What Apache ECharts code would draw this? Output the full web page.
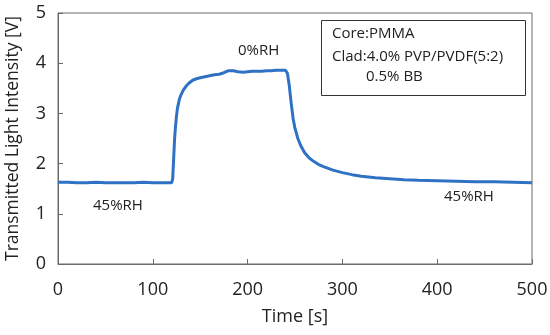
<!DOCTYPE html>
<html>
<head>
<meta charset="utf-8">
<script src="https://cdn.jsdelivr.net/npm/echarts@6/dist/echarts.min.js"></script>
<style>html,body{margin:0;padding:0;background:#fff;}#c{width:550px;height:335px;}</style>
</head>
<body>
<div id="c"></div>
<script>
var times = [0,10,20,30,40,50,60,70,80,90,100,110,120,121,122,123,124,125,126,128,130,132,135,138,142,146,150,155,160,165,170,175,180,185,190,195,200,205,210,215,220,225,230,235,240,242,244,246,248,250,253,256,260,265,270,275,280,290,300,310,320,335,350,365,380,400,420,440,460,480,500];
var intensity = [1.63,1.63,1.62,1.62,1.63,1.62,1.62,1.62,1.62,1.63,1.62,1.62,1.62,1.70,2.10,2.50,2.75,2.95,3.10,3.28,3.38,3.46,3.54,3.60,3.66,3.69,3.71,3.73,3.75,3.77,3.78,3.81,3.85,3.85,3.83,3.82,3.83,3.84,3.84,3.84,3.85,3.85,3.86,3.86,3.86,3.80,3.55,3.20,2.90,2.70,2.50,2.36,2.22,2.11,2.04,1.98,1.94,1.87,1.82,1.78,1.75,1.72,1.70,1.68,1.67,1.66,1.65,1.64,1.64,1.63,1.62];
var xTicks = [0,100,200,300,400,500];
var yTicks = [0,1,2,3,4,5];
var xTitle = 'Time [s]';
var yTitle = 'Transmitted Light Intensity [V]';
var legendLines = ['Core:PMMA','Clad:4.0% PVP/PVDF(5:2)','0.5% BB'];
var notes = ['0%RH','45%RH','45%RH'];

var data = times.map(function(t,i){return [t,intensity[i]];});
var FONT = '"Open Sans", sans-serif';
var chart = echarts.init(document.getElementById('c'), null, {renderer:'canvas'});
chart.setOption({
  animation:false,
  backgroundColor:'#fff',
  grid:{left:58,right:18,top:13,bottom:71,show:true,borderColor:'#6b6b6b',borderWidth:1,backgroundColor:'transparent',outerBoundsMode:'none',containLabel:false},
  xAxis:{type:'value',min:0,max:500,interval:100,
    name:xTitle,nameLocation:'middle',nameGap:44,
    nameTextStyle:{fontFamily:FONT,fontSize:18,color:'#222'},
    axisLine:{show:true,lineStyle:{color:'#6b6b6b',width:1}},
    axisTick:{show:true,inside:true,length:5,lineStyle:{color:'#6b6b6b'}},
    axisLabel:{fontFamily:FONT,fontSize:18,color:'#222',margin:17},
    splitLine:{show:false}},
  yAxis:{type:'value',min:0,max:5,interval:1,
    name:yTitle,nameLocation:'middle',nameGap:36,
    nameTextStyle:{fontFamily:FONT,fontSize:17.5,color:'#222'},
    axisLine:{show:true,lineStyle:{color:'#6b6b6b',width:1}},
    axisTick:{show:true,inside:true,length:5,lineStyle:{color:'#6b6b6b'}},
    axisLabel:{fontFamily:FONT,fontSize:18,color:'#222',margin:12},
    splitLine:{show:false}},
  series:[{type:'line',data:data,showSymbol:false,symbol:'none',
    lineStyle:{color:'#2f72c4',width:3},smooth:false}],
  graphic:[
    {type:'rect',left:321,top:20,shape:{width:204,height:75},style:{fill:'#fff',stroke:'#333',lineWidth:1}},
    {type:'text',left:332,top:26,style:{text:legendLines[0],font:'15px '+FONT,fill:'#222'}},
    {type:'text',left:332,top:49,style:{text:legendLines[1],font:'15px '+FONT,fill:'#222'}},
    {type:'text',left:366,top:69,style:{text:legendLines[2],font:'15px '+FONT,fill:'#222'}},
    {type:'text',left:238,top:43,style:{text:notes[0],font:'15px '+FONT,fill:'#222'}},
    {type:'text',left:93,top:198,style:{text:notes[1],font:'15px '+FONT,fill:'#222'}},
    {type:'text',left:444,top:189,style:{text:notes[2],font:'15px '+FONT,fill:'#222'}}
  ]
});
</script>
</body>
</html>
